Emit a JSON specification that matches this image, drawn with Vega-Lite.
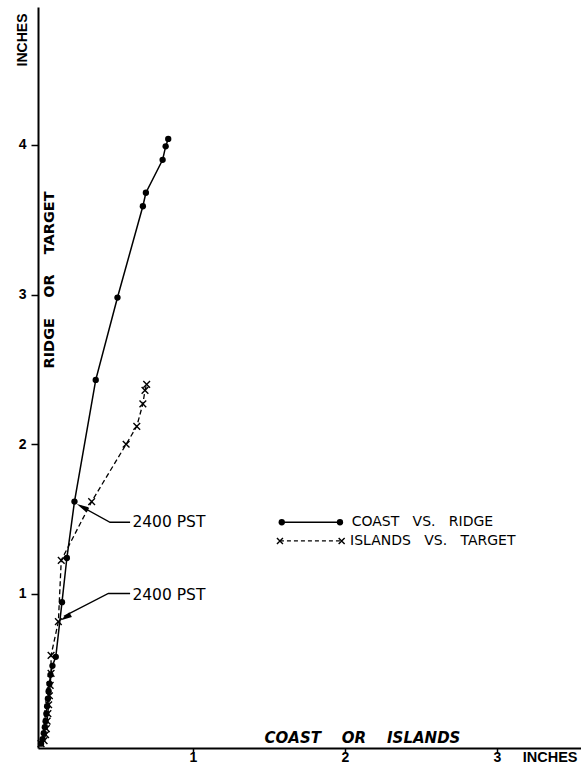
{
  "$schema": "https://vega.github.io/schema/vega-lite/v6.json",
  "width": 543,
  "height": 741,
  "autosize": {"type": "none"},
  "padding": {"left": 38, "top": 7, "right": 0, "bottom": 22},
  "background": "white",
  "config": {"view": {"stroke": null}},
  "datasets": {
    "coast": [
      {"x": 0.0, "y": 0.0}, {"x": 0.01, "y": 0.03}, {"x": 0.018, "y": 0.07}, {"x": 0.025, "y": 0.11},
      {"x": 0.03, "y": 0.15}, {"x": 0.035, "y": 0.2}, {"x": 0.04, "y": 0.25}, {"x": 0.045, "y": 0.3},
      {"x": 0.05, "y": 0.35}, {"x": 0.055, "y": 0.4}, {"x": 0.062, "y": 0.46}, {"x": 0.075, "y": 0.52},
      {"x": 0.097, "y": 0.58}, {"x": 0.138, "y": 0.945}, {"x": 0.17, "y": 1.24}, {"x": 0.22, "y": 1.617},
      {"x": 0.36, "y": 2.43}, {"x": 0.503, "y": 2.98}, {"x": 0.67, "y": 3.59}, {"x": 0.69, "y": 3.68},
      {"x": 0.8, "y": 3.9}, {"x": 0.82, "y": 3.99}, {"x": 0.837, "y": 4.04}
    ],
    "islands": [
      {"x": 0.0, "y": 0.0}, {"x": 0.02, "y": 0.02}, {"x": 0.03, "y": 0.06}, {"x": 0.035, "y": 0.1},
      {"x": 0.04, "y": 0.15}, {"x": 0.045, "y": 0.2}, {"x": 0.05, "y": 0.26}, {"x": 0.055, "y": 0.32},
      {"x": 0.06, "y": 0.39}, {"x": 0.066, "y": 0.47}, {"x": 0.066, "y": 0.59}, {"x": 0.114, "y": 0.815},
      {"x": 0.133, "y": 1.225}, {"x": 0.333, "y": 1.617}, {"x": 0.56, "y": 2.0}, {"x": 0.63, "y": 2.12},
      {"x": 0.67, "y": 2.27}, {"x": 0.684, "y": 2.36}, {"x": 0.695, "y": 2.4}
    ],
    "key": [
      {"series": "coast", "x": 1.584, "y": 1.479}, {"series": "coast", "x": 1.967, "y": 1.479},
      {"series": "islands", "x": 1.572, "y": 1.354}, {"series": "islands", "x": 1.978, "y": 1.354}
    ],
    "notes": [
      {"kind": "stamp", "label": "2400 PST", "x": 0.601, "y": 1.479},
      {"kind": "stamp", "label": "2400 PST", "x": 0.601, "y": 0.995},
      {"kind": "key", "label": "COAST\u00a0\u00a0\u00a0VS.\u00a0\u00a0\u00a0RIDGE", "x": 2.044, "y": 1.479},
      {"kind": "key", "label": "ISLANDS\u00a0\u00a0\u00a0VS.\u00a0\u00a0\u00a0TARGET", "x": 2.033, "y": 1.354},
      {"kind": "xname", "label": "COAST\u00a0\u00a0\u00a0\u00a0OR\u00a0\u00a0\u00a0\u00a0ISLANDS", "x": 2.115, "y": 0.041},
      {"kind": "yname", "label": "RIDGE\u00a0\u00a0\u00a0\u00a0OR\u00a0\u00a0\u00a0\u00a0TARGET", "x": 0.059, "y": 3.098}
    ],
    "leaders": [
      {"id": 1, "k": 1, "x": 0.586, "y": 1.479}, {"id": 1, "k": 2, "x": 0.454, "y": 1.479}, {"id": 1, "k": 3, "x": 0.26, "y": 1.587},
      {"id": 2, "k": 1, "x": 0.586, "y": 1.003}, {"id": 2, "k": 2, "x": 0.443, "y": 1.003}, {"id": 2, "k": 3, "x": 0.15, "y": 0.85}
    ],
    "heads": [
      {"id": 1, "x": 0.27, "y": 1.582},
      {"id": 2, "x": 0.16, "y": 0.842}
    ]
  },
  "encoding": {
    "x": {
      "field": "x", "type": "quantitative",
      "scale": {"domain": [-0.02, 3.553], "nice": false, "zero": false},
      "axis": {
        "values": [1, 2, 3], "grid": false, "title": "INCHES",
        "titleX": 539, "titleY": 2, "titleAlign": "right", "titleBaseline": "top", "titleAngle": 0,
        "titleFont": "Liberation Sans", "titleFontWeight": "bold", "titleFontSize": 14.5, "titleColor": "black",
        "labelFont": "Liberation Sans", "labelFontWeight": "bold", "labelFontSize": 14, "labelColor": "black",
        "labelPadding": -3, "labelFlush": false,
        "tickSize": 5, "tickColor": "black", "tickWidth": 1.5,
        "domainColor": "black", "domainWidth": 2
      }
    },
    "y": {
      "field": "y", "type": "quantitative",
      "scale": {"domain": [-0.029, 4.921], "nice": false, "zero": false},
      "axis": {
        "values": [1, 2, 3, 4], "grid": false, "title": "INCHES",
        "titleX": -16, "titleY": 6, "titleAngle": 270, "titleAlign": "right", "titleBaseline": "middle",
        "titleFont": "Liberation Sans", "titleFontWeight": "bold", "titleFontSize": 14, "titleColor": "black",
        "labelFont": "Liberation Sans", "labelFontWeight": "bold", "labelFontSize": 14, "labelColor": "black",
        "labelPadding": 5, "labelFlush": false,
        "tickSize": 7, "tickColor": "black", "tickWidth": 1.5,
        "domainColor": "black", "domainWidth": 2
      }
    }
  },
  "layer": [
    {
      "data": {"name": "coast"},
      "mark": {"type": "line", "color": "black", "strokeWidth": 1.5},
      "encoding": {"order": {"value": null}}
    },
    {
      "data": {"name": "coast"},
      "mark": {"type": "point", "shape": "circle", "filled": true, "color": "black", "size": 40, "opacity": 1}
    },
    {
      "data": {"name": "islands"},
      "mark": {"type": "line", "color": "black", "strokeWidth": 1.3, "strokeDash": [5, 3]},
      "encoding": {"order": {"value": null}}
    },
    {
      "data": {"name": "islands"},
      "mark": {"type": "point", "shape": "M-1,-1L1,1M-1,1L1,-1", "filled": false, "color": "black", "strokeWidth": 1.4, "size": 45, "opacity": 1}
    },
    {
      "data": {"name": "key"},
      "transform": [{"filter": "datum.series === 'coast'"}],
      "mark": {"type": "line", "color": "black", "strokeWidth": 1.5}
    },
    {
      "data": {"name": "key"},
      "transform": [{"filter": "datum.series === 'coast'"}],
      "mark": {"type": "point", "shape": "circle", "filled": true, "color": "black", "size": 40, "opacity": 1}
    },
    {
      "data": {"name": "key"},
      "transform": [{"filter": "datum.series === 'islands'"}],
      "mark": {"type": "line", "color": "black", "strokeWidth": 1.2, "strokeDash": [4, 3]}
    },
    {
      "data": {"name": "key"},
      "transform": [{"filter": "datum.series === 'islands'"}],
      "mark": {"type": "point", "shape": "M-1,-1L1,1M-1,1L1,-1", "filled": false, "color": "black", "strokeWidth": 1.4, "size": 36, "opacity": 1}
    },
    {
      "data": {"name": "leaders"},
      "mark": {"type": "line", "color": "black", "strokeWidth": 1.3},
      "encoding": {"detail": {"field": "id"}, "order": {"field": "k"}}
    },
    {
      "data": {"name": "heads"},
      "transform": [{"filter": "datum.id === 1"}],
      "mark": {"type": "point", "shape": "M-1,0L1,-0.45L1,0.45Z", "filled": true, "color": "black", "size": 144, "angle": 28.8, "opacity": 1}
    },
    {
      "data": {"name": "heads"},
      "transform": [{"filter": "datum.id === 2"}],
      "mark": {"type": "point", "shape": "M-1,0L1,-0.45L1,0.45Z", "filled": true, "color": "black", "size": 144, "angle": 331, "opacity": 1}
    },
    {
      "data": {"name": "notes"},
      "transform": [{"filter": "datum.kind === 'stamp'"}],
      "mark": {"type": "text", "font": "DejaVu Sans", "fontSize": 15.5, "align": "left", "baseline": "middle", "color": "black"},
      "encoding": {"text": {"field": "label"}}
    },
    {
      "data": {"name": "notes"},
      "transform": [{"filter": "datum.kind === 'key'"}],
      "mark": {"type": "text", "font": "DejaVu Sans", "fontSize": 14, "align": "left", "baseline": "middle", "color": "black"},
      "encoding": {"text": {"field": "label"}}
    },
    {
      "data": {"name": "notes"},
      "transform": [{"filter": "datum.kind === 'xname'"}],
      "mark": {"type": "text", "font": "DejaVu Sans", "fontSize": 15, "fontWeight": "bold", "fontStyle": "italic", "align": "center", "baseline": "middle", "color": "black"},
      "encoding": {"text": {"field": "label"}}
    },
    {
      "data": {"name": "notes"},
      "transform": [{"filter": "datum.kind === 'yname'"}],
      "mark": {"type": "text", "font": "DejaVu Sans", "fontSize": 14.5, "fontWeight": "bold", "angle": 270, "align": "center", "baseline": "middle", "color": "black"},
      "encoding": {"text": {"field": "label"}}
    }
  ]
}
